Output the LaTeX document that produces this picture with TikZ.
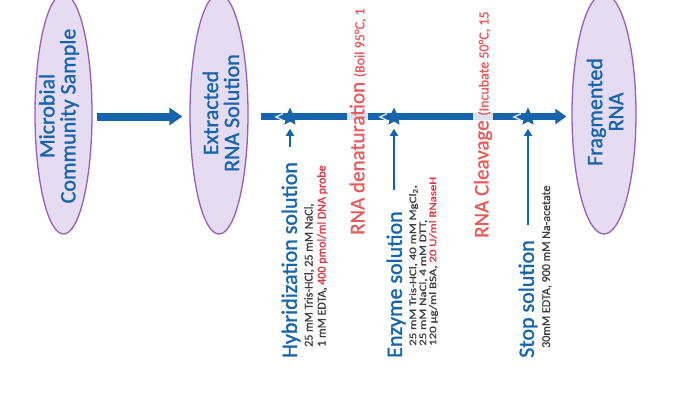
\documentclass[tikz,border=0pt]{standalone}
\usepackage{fontspec}
\setmainfont{Carlito}
\newfontfamily\thickfont[FakeBold=1.2]{Carlito}
\newfontfamily\semifont[FakeBold=0.8]{Carlito}
\usetikzlibrary{shapes.geometric,arrows.meta,calc}
\definecolor{mblue}{RGB}{22,100,172}
\definecolor{mred}{RGB}{236,88,88}
\definecolor{dred}{RGB}{226,50,60}
\definecolor{dgray}{RGB}{60,60,60}
\definecolor{ellfill}{RGB}{230,220,241}
\definecolor{elldraw}{RGB}{150,95,185}
\definecolor{gapfill}{RGB}{218,226,238}
\newcommand\myfs[2]{\fontsize{#1}{#2}\selectfont}
\begin{document}
\begin{tikzpicture}[x=1pt,y=-1pt,
 ell/.style={ellipse, draw=elldraw, line width=1.3pt, fill=ellfill, inner sep=0pt, minimum height=240pt},
 elltext/.style={rotate=90, text=mblue, align=center, font=\thickfont\myfs{22}{21}, inner sep=0pt},
 bluelabel/.style={rotate=90, text=mblue, font=\thickfont\myfs{22}{24}, inner sep=0pt, anchor=west},
 redlabel/.style={rotate=90, text=mred, font=\semifont\myfs{21}{24}, inner sep=0pt, anchor=west},
 detail/.style={rotate=90, text=dgray, align=left, inner sep=0pt, anchor=north west},
 bigarrow/.style={draw=mblue, line width=8pt, -{Triangle[length=13pt,width=17pt]}},
 mainline/.style={draw=mblue, line width=7pt, -{Triangle[length=11pt,width=15pt]}},
 uparrow/.style={draw=mblue, line width=2.5pt, -{Triangle[length=7pt,width=8pt]}},
 starnode/.style={star, star points=5, star point ratio=2.1, fill=mblue, minimum size=19pt, inner sep=0pt},
 chev/.style={draw=white!85!mblue, line width=1.4pt}
]
\useasboundingbox (0,0) rectangle (693,402);
% ellipses
\node[ell, minimum width=57pt] (n1) at (63.5,114) {};
\node[ell, minimum width=58pt] (n2) at (219,114) {};
\node[ell, minimum width=64pt] (n3) at (604,114) {};
\node[elltext] (t1) at (59,116) {Microbial\\Community Sample};
\node[elltext] (t2) at (221,113) {Extracted\\RNA Solution};
\node[elltext] (t3) at (605,112) {Fragmented\\RNA};
% main arrows
\coordinate (ly) at (0,116.5);
\draw[bigarrow, shorten <=4pt, shorten >=7pt] (n1.east |- ly) -- (n2.west |- ly);
\draw[mainline, shorten <=12pt, shorten >=5pt] (n2.east |- ly) -- (n3.west |- ly);
% gaps behind red text
\fill[gapfill] (347,113) rectangle (368,120);
\fill[gapfill] (473,113) rectangle (493,120);
% stars
\node[starnode] (s1) at (290,117) {};
\node[starnode] (s2) at (394,117) {};
\node[starnode] (s3) at (528,117) {};
\draw[chev] ($(s1.center)+(-7,-3.4)$) -- ($(s1.center)+(-14,0)$) -- ($(s1.center)+(-7,3.4)$);
\draw[chev] ($(s2.center)+(-7,-3.4)$) -- ($(s2.center)+(-14,0)$) -- ($(s2.center)+(-7,3.4)$);
\draw[chev] ($(s3.center)+(-7,-3.4)$) -- ($(s3.center)+(-14,0)$) -- ($(s3.center)+(-7,3.4)$);
% vertical arrows
\coordinate (h0) at (290,147);
\coordinate (e0) at (394,190);
\coordinate (p0) at (528,225);
\draw[uparrow, shorten >=7pt] (h0) -- (s1);
\draw[uparrow, shorten >=7pt] (e0) -- (s2);
\draw[uparrow, shorten >=7pt] (p0) -- (s3);
% labels
\node[bluelabel] (hyb) at (291,358) {Hybridization solution};
\node[bluelabel] (enz) at (396,358) {Enzyme solution};
\node[bluelabel] (stp) at (528,358) {Stop solution};
\node[redlabel] (den) at (358,235) {RNA denaturation {\myfs{14}{16}(Boil 95°C, 1}};
\node[redlabel] (clv) at (483,238) {RNA Cleavage {\myfs{14}{16}(Incubate 50°C, 15}};
% details
\node[detail, font=\semifont\myfs{12}{13}] (hd) at (304,347) {25 mM Tris-HCl, 25 mM NaCl,\\1 mM EDTA, \textcolor{dred}{400 pmol/ml DNA probe}};
\node[detail, font=\semifont\myfs{10}{10}, xscale=1.28] (ed) at (409,346) {25 mM Tris-HCl, 40 mM MgCl\textsubscript{2},\\25 mM NaCl, 4 mM DTT,\\120 µg/ml BSA, \textcolor{dred}{20 U/ml RNaseH}};
\node[detail, font=\semifont\myfs{12}{13}] (sd) at (542,348) {30mM EDTA, 900 mM Na-acetate};
\end{tikzpicture}
\end{document}
